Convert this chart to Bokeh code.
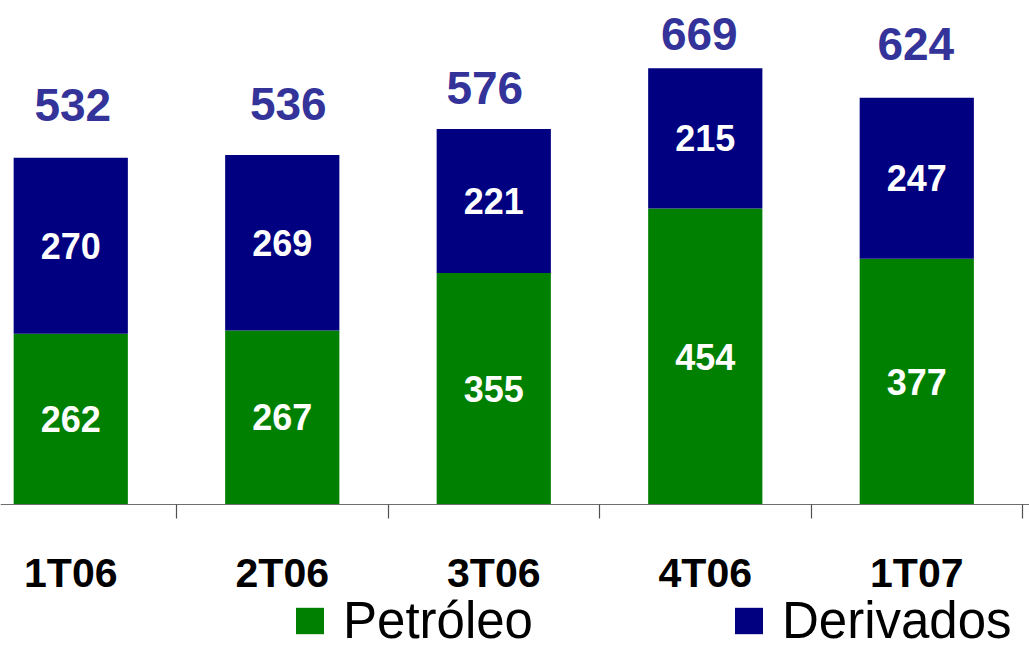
from bokeh.plotting import figure
from bokeh.models import (ColumnDataSource, Range1d, LinearAxis, FixedTicker,
                          Legend, LegendItem)
from bokeh.core.properties import value
from bokeh.embed import file_html
from bokeh.resources import INLINE

# Quarterly volumes (Petróleo + Derivados)
quarters = ["1T06", "2T06", "3T06", "4T06", "1T07"]
petroleo = [262, 267, 355, 454, 377]
derivados = [270, 269, 221, 215, 247]
totais = [532, 536, 576, 669, 624]

GREEN = "#008000"
NAVY = "#000080"
TOTAL_COLOR = "#333399"
FONT = "Liberation Sans"

n = len(quarters)
xs = [i + 0.5 for i in range(n)]
src = ColumnDataSource(dict(
    x=xs,
    petroleo=petroleo,
    derivados=derivados,
    total=totais,
    pet_mid=[p / 2 for p in petroleo],
    der_mid=[p + d / 2 for p, d in zip(petroleo, derivados)],
    pet_txt=[str(v) for v in petroleo],
    der_txt=[str(v) for v in derivados],
    tot_txt=[str(v) for v in totais],
    # small per-label nudges of the totals, in screen pixels
    tot_dx=[2, 6, -9, -6, -1],
    tot_dy=[-53, -51, -41, -34, -54],
))

p = figure(width=1029, height=650, output_backend="svg", toolbar_location=None,
           x_range=Range1d(0.1678, 5.033), y_range=Range1d(-223.9, 773.0),
           min_border=0, outline_line_color=None)
p.axis.visible = False
p.grid.visible = False
p.background_fill_color = "white"
p.border_fill_color = "white"

stack = p.vbar_stack(["petroleo", "derivados"], x="x", width=0.54, source=src,
                     color=[GREEN, NAVY], line_color=None)

# category axis pinned to y = 0: labels at the bar centres,
# boundary tick marks drawn as minor ticks between categories
xaxis = LinearAxis(
    fixed_location=0,
    ticker=FixedTicker(ticks=xs, minor_ticks=[i + 1 for i in range(n)]),
    major_label_overrides={x: q for x, q in zip(xs, quarters)},
    axis_line_color="#6e6e6e", axis_line_width=1.2,
    major_tick_line_color=None, major_tick_in=0, major_tick_out=0,
    minor_tick_line_color="#505050", minor_tick_line_width=1.2,
    minor_tick_in=0, minor_tick_out=14,
    major_label_standoff=31,
    major_label_text_font=FONT, major_label_text_font_style="bold",
    major_label_text_font_size="41px", major_label_text_color="black")
p.add_layout(xaxis, "below")

# segment values
for col, mid in (("pet_txt", "pet_mid"), ("der_txt", "der_mid")):
    p.text(x="x", y=mid, text=col, source=src,
           text_align="center", text_baseline="middle",
           text_font=value(FONT), text_font_style="bold",
           text_font_size="36px", text_color="white")

# totals above the bars
p.text(x="x", y="total", text="tot_txt", source=src,
       x_offset="tot_dx", y_offset="tot_dy",
       text_align="center", text_baseline="middle",
       text_font=value(FONT), text_font_style="bold",
       text_font_size="46px", text_color=TOTAL_COLOR)

legend = Legend(items=[LegendItem(label="Petróleo", renderers=[stack[0]]),
                       LegendItem(label="Derivados", renderers=[stack[1]])],
                location=(292, 0), orientation="horizontal",
                padding=0, margin=0, spacing=198,
                glyph_width=35, glyph_height=33, label_standoff=16,
                label_text_font=FONT, label_text_font_size="51px",
                label_text_color="black",
                border_line_alpha=0, background_fill_alpha=0)
p.add_layout(legend, "center")

open("out.html", "w").write(file_html(p, INLINE))
